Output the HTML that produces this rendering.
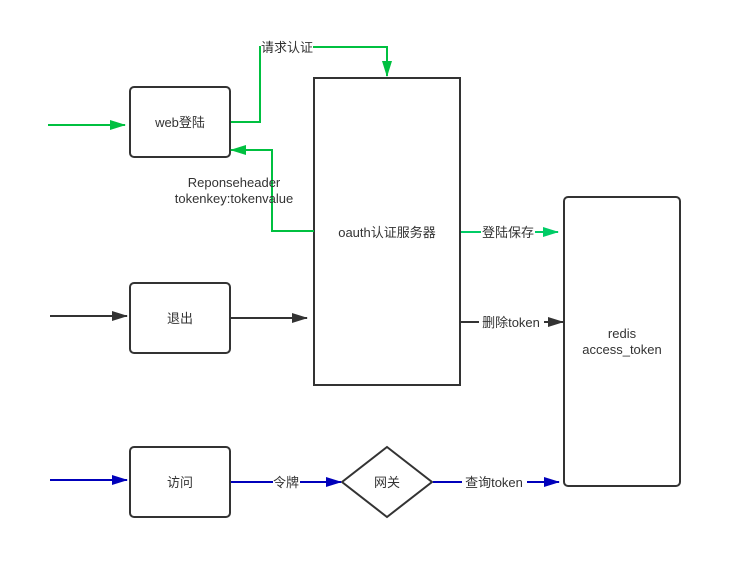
<!DOCTYPE html>
<html><head><meta charset="utf-8"><style>
html,body{margin:0;padding:0;background:#fff;}
svg text{font-family:"Liberation Sans","Noto Sans CJK SC",sans-serif;font-size:13px;fill:#333;}
</style></head><body>
<svg width="742" height="579" viewBox="0 0 742 579" xmlns="http://www.w3.org/2000/svg">
<defs>
<marker id="g" markerWidth="16" markerHeight="10" refX="15" refY="5" orient="auto" markerUnits="userSpaceOnUse"><path d="M0,0 L16,5 L0,10 Z" fill="#00c040"/></marker>
<marker id="g2" markerWidth="16" markerHeight="10" refX="15" refY="5" orient="auto" markerUnits="userSpaceOnUse"><path d="M0,0 L16,5 L0,10 Z" fill="#00cc66"/></marker>
<marker id="k" markerWidth="16" markerHeight="10" refX="15" refY="5" orient="auto" markerUnits="userSpaceOnUse"><path d="M0,0 L16,5 L0,10 Z" fill="#333"/></marker>
<marker id="b" markerWidth="16" markerHeight="10" refX="15" refY="5" orient="auto" markerUnits="userSpaceOnUse"><path d="M0,0 L16,5 L0,10 Z" fill="#0000bb"/></marker>
</defs>
<g fill="#fff" stroke="#333" stroke-width="2">
<rect x="130" y="87" width="100" height="70" rx="4"/>
<rect x="314" y="78" width="146" height="307"/>
<rect x="564" y="197" width="116" height="289" rx="4"/>
<rect x="130" y="283" width="100" height="70" rx="4"/>
<rect x="130" y="447" width="100" height="70" rx="4"/>
<polygon points="387,447 432,482 387,517 342,482"/>
</g>
<g fill="none" stroke-width="2">
<path d="M48,125 L125,125" stroke="#00c040" marker-end="url(#g)"/>
<path d="M231,122 L260,122 L260,47 L387,47 L387,76" stroke="#00c040" marker-end="url(#g)"/>
<path d="M314,231 L272,231 L272,150 L231,150" stroke="#00c040" marker-end="url(#g)"/>
<path d="M461,232 L558,232" stroke="#00cc66" marker-end="url(#g2)"/>
<path d="M50,316 L127,316" stroke="#333" marker-end="url(#k)"/>
<path d="M231,318 L307,318" stroke="#333" marker-end="url(#k)"/>
<path d="M461,322 L563,322" stroke="#333" marker-end="url(#k)"/>
<path d="M50,480 L127,480" stroke="#0000bb" marker-end="url(#b)"/>
<path d="M231,482 L341,482" stroke="#0000bb" marker-end="url(#b)"/>
<path d="M433,482 L559,482" stroke="#0000bb" marker-end="url(#b)"/>
</g>
<g fill="#fff">
<rect x="261" y="40" width="52" height="15"/>
<rect x="481" y="224" width="54" height="16"/>
<rect x="479" y="314" width="65" height="16"/>
<rect x="273" y="474" width="27" height="16"/>
<rect x="462" y="474" width="65" height="16"/>
</g>
<g text-anchor="middle">
<text x="287" y="52">请求认证</text>
<text x="180" y="127">web登陆</text>
<text x="234" y="187">Reponseheader</text>
<text x="234" y="203">tokenkey:tokenvalue</text>
<text x="387" y="237">oauth认证服务器</text>
<text x="508" y="237">登陆保存</text>
<text x="511" y="327">删除token</text>
<text x="622" y="338">redis</text>
<text x="622" y="354">access_token</text>
<text x="180" y="323">退出</text>
<text x="180" y="487">访问</text>
<text x="387" y="487">网关</text>
<text x="286" y="487">令牌</text>
<text x="494" y="487">查询token</text>
</g>
</svg>
</body></html>
